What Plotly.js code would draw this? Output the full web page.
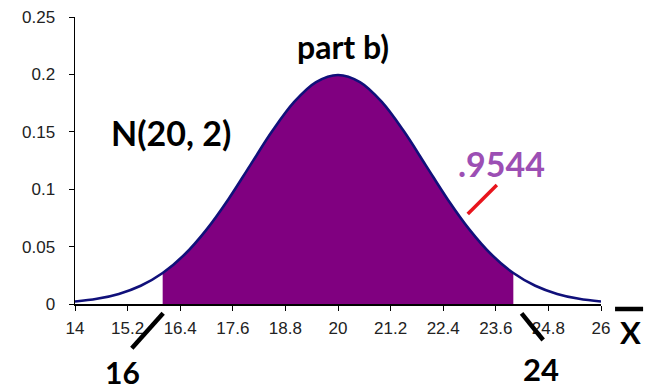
<!DOCTYPE html>
<html>
<head>
<meta charset="utf-8">
<script src="https://cdn.plot.ly/plotly-3.0.1.min.js"></script>
<style>
  html, body { margin: 0; padding: 0; background: #fff; }
  #chart { width: 654px; height: 391px; }
</style>
</head>
<body>
<div id="chart"></div>
<script>
// Density of N(20, 2) tabulated every 0.5 from 14 to 26
const xValues = [14, 14.5, 15, 15.5, 16, 16.5, 17, 17.5, 18, 18.5, 19, 19.5, 20,
                 20.5, 21, 21.5, 22, 22.5, 23, 23.5, 24, 24.5, 25, 25.5, 26];
const densityValues = [0.0022, 0.0045, 0.0088, 0.0159, 0.0270, 0.0431, 0.0648, 0.0913, 0.1210, 0.1506, 0.1760, 0.1933, 0.1995,
                       0.1933, 0.1760, 0.1506, 0.1210, 0.0913, 0.0648, 0.0431, 0.0270, 0.0159, 0.0088, 0.0045, 0.0022];

// Shaded interval P(16 < X < 24)
const shadeFrom = 16;
const shadeTo = 24;
const probabilityLabel = ".9544";

// Axis ticks
const xTicks = [14, 15.2, 16.4, 17.6, 18.8, 20, 21.2, 22.4, 23.6, 24.8, 26];
const xTickLabels = ["14", "15.2", "16.4", "17.6", "18.8", "20", "21.2", "22.4", "23.6", "24.8", "26"];
const yTicks = [0, 0.05, 0.1, 0.15, 0.2, 0.25];
const yTickLabels = ["0", "0.05", "0.1", "0.15", "0.2", "0.25"];

const shadeX = [], shadeY = [];
xValues.forEach((x, i) => {
  if (x >= shadeFrom && x <= shadeTo) { shadeX.push(x); shadeY.push(densityValues[i]); }
});

const boldFont = "Lato, sans-serif";
const tickFont = { family: "Liberation Sans, Arial, sans-serif", size: 17, color: "#222222" };

const traces = [
  {
    x: shadeX, y: shadeY, type: "scatter", mode: "lines",
    line: { width: 0, shape: "spline", color: "#800080" },
    fill: "tozeroy", fillcolor: "#800080", hoverinfo: "skip"
  },
  {
    x: xValues, y: densityValues, type: "scatter", mode: "lines",
    line: { width: 2.6, shape: "spline", color: "#10107a" }
  }
];

const layout = {
  width: 654, height: 391,
  font: { family: "Liberation Sans, Arial, sans-serif", size: 17, color: "#222222" },
  margin: { l: 75, r: 53, t: 17, b: 87, autoexpand: false },
  paper_bgcolor: "#fff", plot_bgcolor: "#fff",
  showlegend: false,
  xaxis: {
    range: [14, 26], tickmode: "array", tickvals: xTicks, ticktext: xTickLabels,
    showgrid: false, zeroline: false, showline: true, linecolor: "#000", linewidth: 1.5,
    ticks: "outside", ticklen: 5, tickcolor: "#000", tickfont: tickFont, ticklabelstandoff: 3
  },
  yaxis: {
    range: [0, 0.25], tickmode: "array", tickvals: yTicks, ticktext: yTickLabels,
    showgrid: false, zeroline: false, showline: true, linecolor: "#000", linewidth: 1.5,
    ticks: "outside", ticklen: 5, tickcolor: "#000", tickfont: tickFont, ticklabelstandoff: 10
  },
  shapes: [
    // strokes pointing from 16 and 24 up to the axis
    { type: "line", xref: "paper", yref: "paper", x0: 0.108, y0: -0.154, x1: 0.1676, y1: -0.0324,
      line: { color: "#000", width: 4.5 } },
    { type: "line", xref: "paper", yref: "paper", x0: 0.849, y0: -0.0324, x1: 0.890, y1: -0.1254,
      line: { color: "#000", width: 4.5 } },
    // bar over X
    { type: "line", xref: "paper", yref: "paper", x0: 1.0267, y0: -0.0174, x1: 1.080, y1: -0.0174,
      line: { color: "#000", width: 4.5 } },
    // pointer from the probability to the curve
    { type: "line", xref: "paper", yref: "paper", x0: 0.7467, y0: 0.3136, x1: 0.802, y1: 0.4146,
      line: { color: "#e8141c", width: 3.5 } }
  ],
  annotations: [
    { text: "<b>part b)</b>", xref: "paper", yref: "paper", x: 0.5086, y: 0.8955,
      showarrow: false, xanchor: "center", yanchor: "middle", font: { family: boldFont, size: 32, color: "#000" } },
    { text: "<b>N(20, 2)</b>", xref: "paper", yref: "paper", x: 0.183, y: 0.596,
      showarrow: false, xanchor: "center", yanchor: "middle", font: { family: boldFont, size: 34, color: "#000" } },
    { text: "<b>" + probabilityLabel + "</b>", xref: "paper", yref: "paper", x: 0.811, y: 0.491,
      showarrow: false, xanchor: "center", yanchor: "middle", font: { family: boldFont, size: 34, color: "#9c4fb4" } },
    { text: "<b>" + shadeFrom + "</b>", xref: "paper", yref: "paper", x: 0.0895, y: -0.238,
      showarrow: false, xanchor: "center", yanchor: "middle", font: { family: boldFont, size: 30, color: "#000" } },
    { text: "<b>" + shadeTo + "</b>", xref: "paper", yref: "paper", x: 0.886, y: -0.226,
      showarrow: false, xanchor: "center", yanchor: "middle", font: { family: boldFont, size: 31, color: "#000" } },
    { text: "<b>X</b>", xref: "paper", yref: "paper", x: 1.057, y: -0.0976,
      showarrow: false, xanchor: "center", yanchor: "middle", font: { family: boldFont, size: 31, color: "#000" } }
  ]
};

Plotly.newPlot("chart", traces, layout, { displayModeBar: false, staticPlot: true });
</script>
</body>
</html>
